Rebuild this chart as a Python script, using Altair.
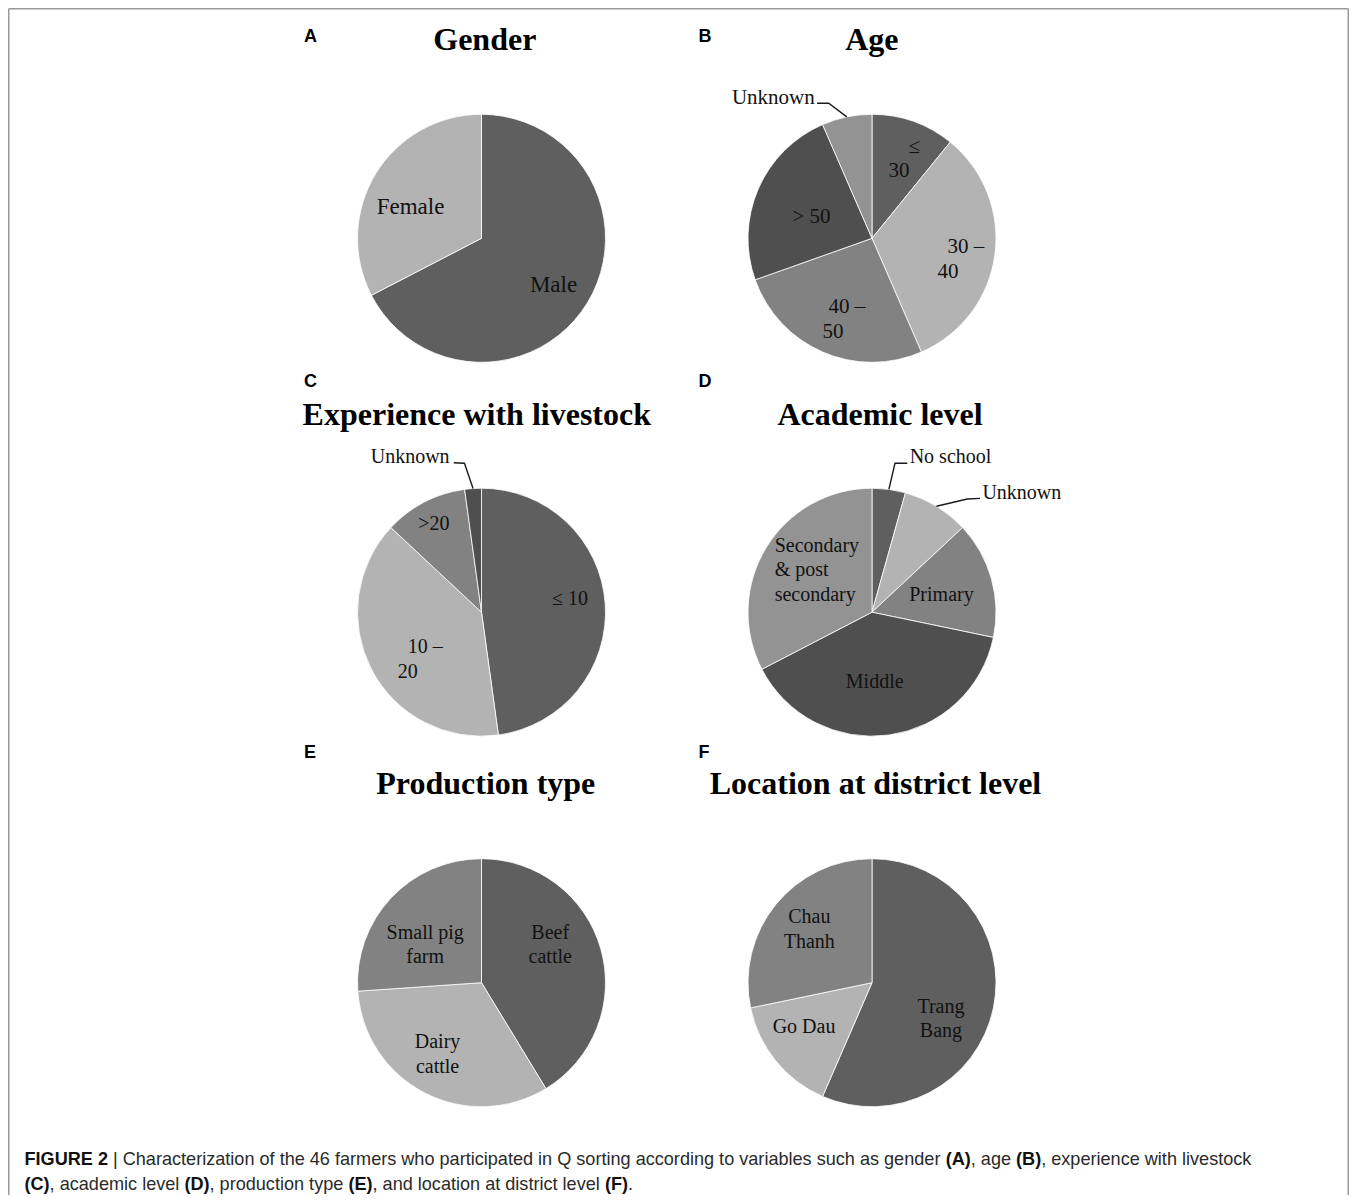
import math
import altair as alt
import pandas as pd

# ---------------- data (46 farmers) ----------------
N = 46
gender_cats = ["Male", "Female"]
gender_vals = [31, 15]
age_cats = ["≤ 30", "30 – 40", "40 – 50", "> 50", "Unknown"]
age_vals = [5, 15, 12, 11, 3]
exp_cats = ["≤ 10", "10 – 20", ">20", "Unknown"]
exp_vals = [22, 18, 5, 1]
acad_cats = ["No school", "Unknown", "Primary", "Middle", "Secondary & post secondary"]
acad_vals = [2, 4, 7, 18, 15]
prod_cats = ["Beef cattle", "Dairy cattle", "Small pig farm"]
prod_vals = [19, 15, 12]
loc_cats = ["Trang Bang", "Go Dau", "Chau Thanh"]
loc_vals = [26, 7, 13]

panel_letters = ["A", "B", "C", "D", "E", "F"]
panel_titles = ["Gender", "Age", "Experience with livestock", "Academic level",
                "Production type", "Location at district level"]

caption_line1 = [("FIGURE 2", True),
                 (" | Characterization of the 46 farmers who participated in Q sorting according to variables such as gender ", False),
                 ("(A)", True), (", age ", False), ("(B)", True), (", experience with livestock", False)]
caption_line2 = [("(C)", True), (", academic level ", False), ("(D)", True), (", production type ", False),
                 ("(E)", True), (", and location at district level ", False), ("(F)", True), (".", False)]

# ---------------- layout / style ----------------
W, H = 1341, 1187
OFF = 8
R = 124
LH = 24.5
grays = ["#5f5f5f", "#b3b3b3", "#828282", "#4f4f4f", "#939393"]
col_x = [481.5, 872.0]
row_y = [238.3, 612.2, 982.7]
title_x = [484.8, 871.8, 476.8, 880.0, 485.8, 875.5]
title_base = [50.0, 425.0, 794.3]
letter_x = [304.0, 698.5]
letter_base = [42.3, 386.7, 758.3]
label_fs = [23, 21, 20, 20, 20, 20]

# how each label is broken into lines, with a left indent per line (left-aligned labels)
lines_of = {
    "≤ 30": (["≤", "30"], [20, 0]), "30 – 40": (["30 –", "40"], [10, 0]),
    "40 – 50": (["40 –", "50"], [6, 0]), "10 – 20": (["10 –", "20"], [10, 0]),
    "Secondary & post secondary": (["Secondary", "& post", "secondary"], [0, 0, 0]),
    "Beef cattle": (["Beef", "cattle"], None), "Dairy cattle": (["Dairy", "cattle"], None),
    "Small pig farm": (["Small pig", "farm"], None), "Trang Bang": (["Trang", "Bang"], None),
    "Chau Thanh": (["Chau", "Thanh"], None),
}
# inside labels: (kind, radius px, angle adjust deg); outside: ("out", label dx, dy, start dx, dy, elbow dx, dy)
label_style = [
    {"Male": ("c", 86, 1.8), "Female": ("c", 77.5, -7.7)},
    {"≤ 30": ("l", 81, -7.8), "30 – 40": ("l", 68.8, 10.1), "40 – 50": ("l", 95.1, 7.9),
     "> 50": ("c", 64.1, -4.1), "Unknown": ("out", -73.4, -18.6, -29.7, -13.6, -18.1, -13.6)},
    {"≤ 10": ("c", 89.5, -4.7), "10 – 20": ("l", 96.2, -2.2), ">20": ("c", 99.8, -1.1),
     "Unknown": ("out", -62.9, -31.2, -19.3, -25.8, -8.6, -25.2)},
    {"No school": ("out", 61.6, -32.1, 18.4, -26.1, 6.1, -26.1),
     "Unknown": ("out", 85.4, -12.9, 43.6, -7.9, 30.9, -7.2),
     "Primary": ("c", 71.5, 1.9), "Middle": ("c", 69.7, 5.6), "Secondary & post secondary": ("l", 106, -8)},
    {"Beef cattle": ("c", 78.4, -13.1), "Dairy cattle": ("c", 84.4, 4), "Small pig farm": ("c", 67.8, -9.2)},
    {"Trang Bang": ("c", 78, 16.2), "Go Dau": ("c", 81, 6.2), "Chau Thanh": ("c", 82.4, 1.3)},
]

theta_scale = alt.Scale(domain=[0, N])
xs = alt.Scale(domain=[0, W], range=[0, W], nice=False, zero=False)
ys = alt.Scale(domain=[0, H], range=[0, H], nice=False, zero=False)
X = lambda f: alt.X(f, scale=xs, axis=None)
Y = lambda f: alt.Y(f, scale=ys, axis=None)

panels = [(gender_cats, gender_vals), (age_cats, age_vals), (exp_cats, exp_vals),
          (acad_cats, acad_vals), (prod_cats, prod_vals), (loc_cats, loc_vals)]

layers = []
text_rows, lead_rows = [], []
lead_id = 0
for i, (cats, vals) in enumerate(panels):
    cx, cy = col_x[i % 2], row_y[i // 2]
    starts, ends, mids = [], [], []
    acc = 0
    for v in vals:
        starts.append(acc)
        ends.append(acc + v)
        mids.append(acc + v / 2)
        acc += v
    df = pd.DataFrame({"cat": cats, "val": vals, "start": starts, "end": ends,
                       "shade": [grays[k] for k in range(len(cats))]})
    layers.append(
        alt.Chart(df).mark_arc(radius=R, stroke="#ffffff", strokeWidth=0.8).encode(
            theta=alt.Theta("start:Q", scale=theta_scale),
            theta2="end:Q",
            color=alt.Color("shade:N", scale=None),
            x=alt.value(cx - OFF), y=alt.value(cy - OFF),
        )
    )
    for c, m in zip(cats, mids):
        st = label_style[i][c]
        lines, indents = lines_of.get(c, ([c], None))
        if st[0] == "out":
            a = math.radians(m * 360 / N)
            ex, ey = cx + R * math.sin(a), cy - R * math.cos(a)
            text_rows.append({"x": ex + st[1] - OFF, "y": ey + st[2] - OFF, "txt": c,
                              "fs": label_fs[i], "al": "center"})
            pts = [(ex + st[3], ey + st[4]), (ex + st[5], ey + st[6]), (ex, ey)]
            for k, (px, py) in enumerate(pts):
                lead_rows.append({"id": lead_id, "k": k, "x": px - OFF, "y": py - OFF})
            lead_id += 1
        else:
            a = math.radians((m + st[2] * N / 360) * 360 / N)
            ax, ay = cx + st[1] * math.sin(a), cy - st[1] * math.cos(a)
            n = len(lines)
            for j, ln in enumerate(lines):
                dx = indents[j] if (st[0] == "l" and indents) else 0
                text_rows.append({"x": ax + dx - OFF, "y": ay + (j - (n - 1) / 2) * LH - OFF,
                                  "txt": ln, "fs": label_fs[i],
                                  "al": "left" if st[0] == "l" else "center"})

tr = pd.DataFrame(text_rows)
for (fs, al), sub in tr.groupby(["fs", "al"]):
    layers.append(
        alt.Chart(sub).mark_text(font="Liberation Serif", fontSize=int(fs), align=al,
                                 baseline="middle", color="#111111").encode(
            x=X("x:Q"), y=Y("y:Q"), text="txt:N")
    )

layers.append(
    alt.Chart(pd.DataFrame(lead_rows)).mark_line(color="#1a1a1a", strokeWidth=1.4).encode(
        x=X("x:Q"), y=Y("y:Q"), detail="id:N", order="k:Q"
    )
)

# titles and panel letters
tdf = pd.DataFrame({"txt": panel_titles, "x": [v - OFF for v in title_x],
                    "y": [title_base[k // 2] - OFF for k in range(6)]})
layers.append(
    alt.Chart(tdf).mark_text(font="Liberation Serif", fontWeight="bold", fontSize=32,
                             align="center", baseline="alphabetic", color="#000000").encode(
        x=X("x:Q"), y=Y("y:Q"), text="txt:N")
)
ldf = pd.DataFrame({"txt": panel_letters, "x": [letter_x[k % 2] - OFF for k in range(6)],
                    "y": [letter_base[k // 2] - OFF for k in range(6)]})
layers.append(
    alt.Chart(ldf).mark_text(font="Liberation Sans", fontWeight="bold", fontSize=18,
                             align="left", baseline="alphabetic", color="#000000").encode(
        x=X("x:Q"), y=Y("y:Q"), text="txt:N")
)

# caption with mixed bold segments (Helvetica/Arial metrics)
REG = {" ": 278, "|": 260, ",": 278, ".": 278, "(": 333, ")": 333, "C": 722, "Q": 778,
       "a": 556, "b": 556, "c": 500, "d": 556, "e": 556, "f": 278, "g": 556, "h": 556, "i": 222,
       "j": 222, "k": 500, "l": 222, "m": 833, "n": 556, "o": 556, "p": 556, "q": 556, "r": 333,
       "s": 500, "t": 278, "u": 556, "v": 500, "w": 722, "x": 500, "y": 500, "z": 500}
BOLD = {" ": 278, "(": 333, ")": 333, "A": 722, "B": 722, "C": 722, "D": 722, "E": 667, "F": 611,
        "G": 778, "I": 278, "R": 722, "U": 722}
CAP_FS = 18.1
def tw(s, bold):
    tbl = BOLD if bold else REG
    return sum(tbl.get(ch, 556) for ch in s) * CAP_FS / 1000

cap_rows = []
for line, base in ((caption_line1, 1165.0), (caption_line2, 1190.0)):
    x = 24.5
    for seg, bold in line:
        lead = len(seg) - len(seg.lstrip(" "))
        cap_rows.append({"txt": seg.strip(" "), "x": x + tw(" " * lead, bold) - OFF, "y": base - OFF,
                         "b": bold})
        x += tw(seg, bold)
cdf = pd.DataFrame(cap_rows)
for bold in (True, False):
    layers.append(
        alt.Chart(cdf[cdf["b"] == bold]).mark_text(
            font="Liberation Sans", fontWeight="bold" if bold else "normal", fontSize=CAP_FS,
            align="left", baseline="alphabetic", color="#111111" if bold else "#2a2a2a"
        ).encode(x=X("x:Q"), y=Y("y:Q"), text="txt:N")
    )

# frame (open at the bottom, as in the cropped figure)
bdf = pd.DataFrame({"x": [0.75, 0.75, W - 0.75], "y": [0.75, 0.75, 0.75],
                    "x2": [W - 0.75, 0.75, W - 0.75], "y2": [0.75, H, H]})
layers.append(
    alt.Chart(bdf).mark_rule(color="#9a9a9a", strokeWidth=1.5).encode(
        x=X("x:Q"), y=Y("y:Q"), x2="x2:Q", y2="y2:Q")
)

chart = alt.layer(*layers).properties(
    width=W, height=H, padding=0, autosize=alt.AutoSizeParams(type="none")
).configure_view(strokeWidth=0)

chart.save("out.html", embed_options={"renderer": "svg", "actions": False})
